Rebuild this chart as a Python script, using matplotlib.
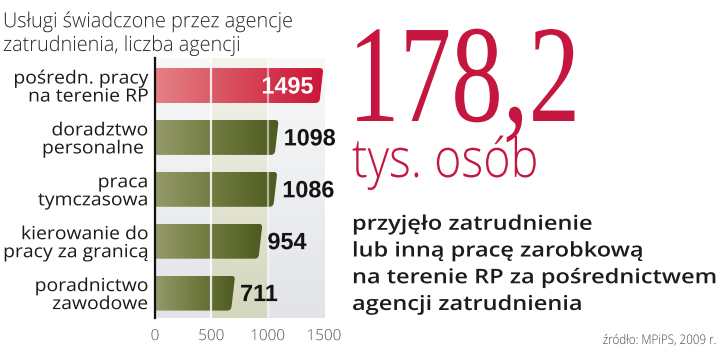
import numpy as np
import matplotlib
matplotlib.use("Agg")
import matplotlib.pyplot as plt
from matplotlib.path import Path
from matplotlib.patches import PathPatch
from matplotlib.colors import LinearSegmentedColormap
from matplotlib.patheffects import AbstractPathEffect
from matplotlib.transforms import Affine2D

# dane: uslugi agencji zatrudnienia, liczba agencji
kategorie = ["pośredn. pracy\nna terenie RP",
             "doradztwo\npersonalne ",
             "praca\ntymczasowa",
             "kierowanie do\npracy za granicą",
             "poradnictwo\nzawodowe"]
agencje = [1495, 1098, 1086, 954, 711]
osi_x = [0, 500, 1000, 1500]
liczba_osob = "178,2"

CZERWONY = "#c4163f"
SANS = ["Open Sans", "Liberation Sans", "DejaVu Sans"]


class Squeeze(AbstractPathEffect):
    """zweza tekst w poziomie (glify rysowane jako sciezki)"""
    def __init__(self, sx, ha="left"):
        super().__init__()
        self.sx = sx
        self.ha = ha

    def draw_path(self, renderer, gc, tpath, affine, rgbFace=None):
        ext = tpath.get_extents()
        if self.ha == "right":
            x0 = ext.x1
        elif self.ha == "center":
            x0 = (ext.x0 + ext.x1) / 2
        else:
            x0 = 0
        sq = Affine2D().translate(-x0, 0).scale(self.sx, 1).translate(x0, 0)
        renderer.draw_path(gc, tpath, sq + affine, rgbFace)


W, H = 720, 347
fig = plt.figure(figsize=(W / 100, H / 100), dpi=100)
fig.patch.set_facecolor("white")

def fx(px):
    return px / W

def fy(py):
    return 1 - py / H

ax = fig.add_axes([fx(155), fy(318), fx(170), 260 / H])
XMAX = 1509
Y0, Y1 = 4.48, -0.53

# tlo: szary gradient + oliwkowy pas 500-1000
t = np.linspace(0, 1, 64)[:, None, None]
szary = (1 - t) * np.array([0.975, 0.975, 0.975]) + t * np.array([0.886, 0.894, 0.910])
bez = (1 - t) * np.array([0.955, 0.955, 0.925]) + t * np.array([0.835, 0.840, 0.745])
ax.imshow(szary, extent=(0, XMAX, Y0, Y1), aspect="auto", zorder=0)
ax.imshow(bez, extent=(500, 1000, Y0, Y1), aspect="auto", zorder=0.5)

cm_red = LinearSegmentedColormap.from_list("r", ["#e58186", "#d64a5a", "#cc1438"])
cm_oliv = LinearSegmentedColormap.from_list("o", ["#959a6a", "#6f7a3e", "#4d5a20"])

px_x = 170 / XMAX
px_y = 260 / (Y0 - Y1)
h = 35 / px_y
s = 4 / px_x      # skos prawej krawedzi
rx = 4 / px_x
f = (4 / px_y) / h

for i, v in enumerate(agencje):
    yt, yb = i - h / 2, i + h / 2
    verts = [(0, yt), (v - rx, yt), (v, yt), (v - s * f, yt + h * f),
             (v - s * (1 - f), yb - h * f), (v - s, yb), (v - s - rx, yb),
             (0, yb), (0, yt)]
    codes = [Path.MOVETO, Path.LINETO, Path.CURVE3, Path.CURVE3, Path.LINETO,
             Path.CURVE3, Path.CURVE3, Path.LINETO, Path.CLOSEPOLY]
    patch = PathPatch(Path(verts, codes), facecolor="none", edgecolor="none")
    ax.add_patch(patch)
    im = ax.imshow(np.linspace(0, 1, 128)[None, :], cmap=cm_red if i == 0 else cm_oliv,
                   extent=(0, v, yb, yt), aspect="auto", zorder=2)
    im.set_clip_path(patch)

ax.axvline(500, color="white", lw=1.6, alpha=0.85, zorder=3)
ax.axvline(1000, color="white", lw=1.6, alpha=0.55, zorder=3)

wartosci = []
for i, v in enumerate(agencje):
    if i == 0:
        tx = ax.annotate(str(v), (v, i), xytext=(-10 * 0.72, -8 * 0.72),
                         textcoords="offset points", ha="right", va="baseline",
                         fontsize=17, fontweight="bold", color="white",
                         family=["Liberation Sans", "DejaVu Sans"], zorder=5)
    else:
        tx = ax.annotate(str(v), (v, i), xytext=(5 * 0.72, -8 * 0.72),
                         textcoords="offset points", ha="left", va="baseline",
                         fontsize=17, fontweight="bold", color="#141414",
                         family=["Liberation Sans", "DejaVu Sans"], zorder=5,
                         annotation_clip=False)
    wartosci.append(tx)

ax.set_xlim(0, XMAX)
ax.set_ylim(Y0, Y1)
ax.set_xticks(osi_x)
ax.set_xticklabels([str(x) for x in osi_x], fontsize=11, color="#555555",
                   family=SANS, fontweight="light")
ax.set_yticks(range(len(kategorie)))
ax.set_yticklabels(kategorie, fontsize=13, color="#1a1a1a", family=SANS,
                   linespacing=1.0)
ax.tick_params(length=0)
ax.tick_params(axis="y", pad=5)
ax.tick_params(axis="x", pad=8)
for sp in ["top", "right", "bottom"]:
    ax.spines[sp].set_visible(False)
ax.spines["left"].set_linewidth(1.6)
ax.spines["left"].set_color("#111111")
ax.spines["left"].set_zorder(6)

# teksty obok wykresu (dla tekstu wielowierszowego y = linia bazowa ostatniego wiersza)
tytul = fig.text(fx(3), fy(51), "Usługi świadczone przez agencje\nzatrudnienia, liczba agencji",
                 fontsize=15, color="#262626", family=SANS, fontweight="light",
                 va="baseline", ha="left", linespacing=1.25)
duza = fig.text(fx(348), fy(121), liczba_osob, fontsize=100, color=CZERWONY,
                family=["Liberation Serif", "DejaVu Serif"], va="baseline", ha="left")
tys = fig.text(fx(352), fy(177), "tys. osób", fontsize=39, color=CZERWONY,
               family=SANS, fontweight="light", va="baseline", ha="left")
opis = fig.text(fx(352), fy(310),
                "przyjęło zatrudnienie\nlub inną pracę zarobkową\n"
                "na terenie RP za pośrednictwem\nagencji zatrudnienia",
                fontsize=14.5, color="#1c1c1c", family=SANS, fontweight="semibold",
                va="baseline", ha="left", linespacing=1.45)
zrodlo = fig.text(fx(717), fy(344), "źródło: MPiPS, 2009 r.", fontsize=9.5,
                  color="#444444", family=SANS, fontweight="light",
                  va="baseline", ha="right")

# dopasowanie szerokosci tekstow
fig.canvas.draw()
r = fig.canvas.get_renderer()

def szer(tx):
    return tx.get_window_extent(r).width

def zwez(teksty, cel, ha):
    sx = cel / max(szer(tx) for tx in teksty)
    for tx in teksty:
        tx.set_path_effects([Squeeze(sx, ha)])
    return sx

zwez([tytul], 292, "left")
zwez([duza], 232, "left")
zwez([tys], 186, "left")
zwez([opis], 366, "left")
zwez([zrodlo], 114, "right")
zwez(ax.get_yticklabels(), 145, "right")
zwez(ax.get_xticklabels(), 35, "center")
sx_w = zwez(wartosci[1:2], 52, "left")
for tx in wartosci:
    tx.set_path_effects([Squeeze(sx_w, tx.get_ha())])

fig.savefig("out.png", dpi=100)
